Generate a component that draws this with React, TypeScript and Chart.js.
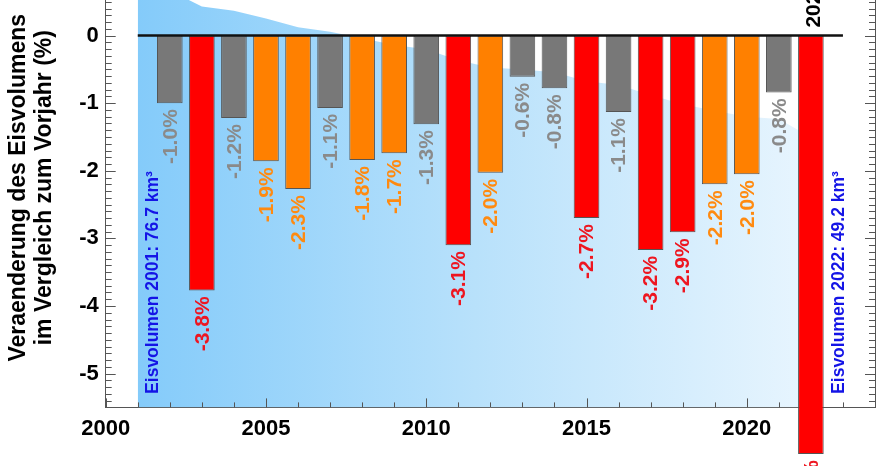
import React, { useEffect, useRef } from 'react';
import { Chart, registerables } from 'chart.js';

Chart.register(...registerables);

// ---- data ----
const years = [2002, 2003, 2004, 2005, 2006, 2007, 2008, 2009, 2010, 2011, 2012, 2013, 2014, 2015, 2016, 2017, 2018, 2019, 2020, 2021, 2022];
const changes = [-1.0, -3.77, -1.22, -1.86, -2.27, -1.07, -1.84, -1.74, -1.31, -3.1, -2.03, -0.61, -0.78, -2.7, -1.13, -3.17, -2.91, -2.2, -2.05, -0.84, -6.19];
const changeLabels = ['-1.0%', '-3.8%', '-1.2%', '-1.9%', '-2.3%', '-1.1%', '-1.8%', '-1.7%', '-1.3%', '-3.1%', '-2.0%', '-0.6%', '-0.8%', '-2.7%', '-1.1%', '-3.2%', '-2.9%', '-2.2%', '-2.0%', '-0.8%', '-6.2%'];
const classes = ['g', 'r', 'g', 'o', 'o', 'g', 'o', 'o', 'g', 'r', 'o', 'g', 'g', 'r', 'g', 'r', 'r', 'o', 'o', 'g', 'r'];
const volumeYears = [2001, 2002, 2003, 2004, 2005, 2006, 2007, 2008, 2009, 2010, 2011, 2012, 2013, 2014, 2015, 2016, 2017, 2018, 2019, 2020, 2021, 2022];
const volumes = [76.7, 75.9, 73.0, 72.2, 70.8, 69.2, 68.4, 67.2, 66.0, 65.2, 63.2, 61.9, 61.5, 61.0, 59.4, 58.7, 56.9, 55.2, 54.0, 52.9, 52.5, 49.2];
const xTickYears = [2000, 2005, 2010, 2015, 2020];
const yTickValues = [0, -1, -2, -3, -4, -5];
const yTitle = ['Veraenderung des Eisvolumens', 'im Vergleich zum Vorjahr (%)'];
const sideNotes = ['Eisvolumen 2001: 76.7 km³', 'Eisvolumen 2022: 49.2 km³'];
const highlightYear = 2022;

const FONT = "'Liberation Sans', Arial, Helvetica, sans-serif";
const barFill: Record<string, string> = { g: '#787878', o: '#ff8000', r: '#ff0000' };
const labelColor: Record<string, string> = { g: '#8a8a8a', o: '#ff8a10', r: '#ee1620' };

const noPad = (s: any) => {
  s.paddingTop = 0;
  s.paddingBottom = 0;
  s.paddingLeft = 0;
  s.paddingRight = 0;
};

function drawTicks(chart: any) {
  const ctx = chart.ctx;
  const area = chart.chartArea;
  const ys = chart.scales.y;
  const xs = chart.scales.x;
  ctx.save();
  ctx.strokeStyle = '#555555';
  ctx.lineWidth = 1;
  ctx.beginPath();
  for (let k = -55; k <= 10; k++) {
    const py = Math.round(ys.getPixelForValue(k / 10)) + 0.5;
    const len = k % 10 === 0 ? 10 : 6;
    ctx.moveTo(area.left, py);
    ctx.lineTo(area.left + len, py);
    ctx.moveTo(area.right, py);
    ctx.lineTo(area.right - len, py);
  }
  for (let yr = 2000; yr <= 2024; yr++) {
    const bi = years.indexOf(yr);
    if (bi >= 0 && changes[bi] < -5.5) continue;
    const px = Math.round(xs.getPixelForValue(yr)) + 0.5;
    const len = yr % 5 === 0 ? 9 : 5;
    ctx.moveTo(px, area.bottom);
    ctx.lineTo(px, area.bottom - len);
  }
  ctx.stroke();
  ctx.restore();
}

const overlayPlugin = {
  id: 'overlay',
  afterDatasetsDraw(chart: any) {
    drawTicks(chart);
    const { ctx } = chart;
    const meta = chart.getDatasetMeta(1);
    const xs = chart.scales.x;
    const ys = chart.scales.y;
    ctx.save();
    ctx.font = `bold 21px ${FONT}`;
    meta.data.forEach((el: any, i: number) => {
      const { x, y } = el.getProps(['x', 'y'], true);
      ctx.save();
      ctx.translate(x, y + 6);
      ctx.rotate(-Math.PI / 2);
      ctx.textAlign = 'right';
      ctx.textBaseline = 'middle';
      ctx.fillStyle = labelColor[classes[i]];
      ctx.fillText(changeLabels[i], 0, 1);
      ctx.restore();
    });
    const hi = years.indexOf(highlightYear);
    if (hi >= 0) {
      const el = meta.data[hi];
      ctx.save();
      ctx.translate(el.x + 2, ys.getPixelForValue(0) - 8);
      ctx.rotate(-Math.PI / 2);
      ctx.textAlign = 'left';
      ctx.textBaseline = 'middle';
      ctx.fillStyle = '#000';
      ctx.fillText(String(highlightYear), 0, 1);
      ctx.restore();
    }
    ctx.font = `bold 17.5px ${FONT}`;
    ctx.fillStyle = '#1414e6';
    const notePos = [
      [2001.44, -5.3],
      [2022.85, -5.3],
    ];
    sideNotes.forEach((t, i) => {
      ctx.save();
      ctx.translate(xs.getPixelForValue(notePos[i][0]), ys.getPixelForValue(notePos[i][1]));
      ctx.rotate(-Math.PI / 2);
      ctx.textAlign = 'left';
      ctx.textBaseline = 'middle';
      ctx.fillText(t, 0, 1);
      ctx.restore();
    });
    ctx.restore();
  },
};

export default function App() {
  const ref = useRef<HTMLCanvasElement | null>(null);
  useEffect(() => {
    if (!ref.current) return;
    Chart.defaults.font.family = FONT;
    const chart = new Chart(ref.current, {
      type: 'bar',
      data: {
        datasets: [
          {
            type: 'line',
            label: 'Eisvolumen',
            data: volumeYears.map((yr, i) => ({ x: yr, y: volumes[i] })),
            yAxisID: 'yVol',
            fill: 'start',
            borderWidth: 0,
            pointRadius: 0,
            tension: 0,
            order: 3,
            backgroundColor: (c: any) => {
              const ch = c.chart;
              if (!ch.chartArea || !ch.scales.x) return '#bfe3fb';
              const x0 = ch.scales.x.getPixelForValue(2001);
              const x1 = ch.scales.x.getPixelForValue(2022);
              const g = ch.ctx.createLinearGradient(x0, 0, x1, 0);
              g.addColorStop(0, 'rgb(132,203,250)');
              g.addColorStop(0.5, 'rgb(184,225,251)');
              g.addColorStop(1, 'rgb(232,245,254)');
              return g;
            },
          } as any,
          {
            type: 'bar',
            label: 'Veraenderung',
            data: years.map((yr, i) => ({ x: yr, y: changes[i] })),
            backgroundColor: classes.map((c) => barFill[c]),
            borderColor: '#555',
            borderWidth: 1,
            borderSkipped: false,
            barPercentage: 0.8,
            categoryPercentage: 1,
            clip: false,
            order: 2,
          } as any,
          {
            type: 'line',
            label: 'Null',
            data: [
              { x: 2001, y: 0 },
              { x: 2023, y: 0 },
            ],
            borderColor: '#111',
            borderWidth: 2.5,
            pointRadius: 0,
            fill: false,
            order: 1,
          } as any,
        ],
      },
      options: {
        responsive: false,
        animation: false,
        events: [],
        layout: { padding: 0 },
        plugins: { legend: { display: false }, tooltip: { enabled: false } },
        scales: {
          x: {
            type: 'linear',
            position: 'bottom',
            offset: false,
            min: 2000,
            max: 2024,
            grid: { display: false, drawTicks: false, offset: false },
            border: { display: true, color: '#555', width: 1 },
            ticks: {
              stepSize: 1,
              autoSkip: false,
              maxRotation: 0,
              padding: 8,
              color: '#000',
              font: { size: 22, weight: 'bold' },
              callback: (v: any) => (xTickYears.includes(Number(v)) ? String(v) : ''),
            },
            afterFit: (s: any) => {
              s.height = 58.6;
              noPad(s);
            },
          },
          y: {
            type: 'linear',
            position: 'left',
            min: -5.5,
            max: 1,
            grid: { display: false, drawTicks: false },
            border: { display: true, color: '#555', width: 1 },
            ticks: {
              stepSize: 1,
              padding: 7,
              color: '#000',
              font: { size: 22, weight: 'bold' },
              callback: (v: any) => (yTickValues.includes(Number(v)) ? String(v) : ''),
            },
            title: {
              display: true,
              text: yTitle,
              color: '#000',
              font: { size: 23, weight: 'bold', lineHeight: 1.15 },
              padding: { top: 5, bottom: 0 },
            },
            afterFit: (s: any) => {
              s.width = 105.7;
              noPad(s);
            },
          },
          yR: {
            type: 'linear',
            position: 'right',
            min: -5.5,
            max: 1,
            grid: { display: false, drawTicks: false },
            border: { display: true, color: '#555', width: 1 },
            ticks: { display: false },
            afterFit: (s: any) => {
              s.width = 5;
              noPad(s);
            },
          },
          yVol: {
            type: 'linear',
            display: false,
            min: 0,
            max: 80,
          },
        },
      } as any,
      plugins: [overlayPlugin],
    });
    return () => chart.destroy();
  }, []);

  return (
    <div style={{ position: 'absolute', left: 0, top: -32, width: 880, height: 498, background: '#fff' }}>
      <canvas ref={ref} width={880} height={498} style={{ width: 880, height: 498, display: 'block' }} />
    </div>
  );
}
